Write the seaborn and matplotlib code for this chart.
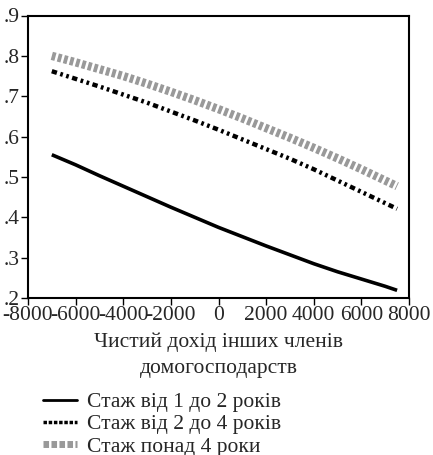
import numpy as np
import pandas as pd
import matplotlib
matplotlib.use("Agg")
import matplotlib.pyplot as plt
import seaborn as sns
from matplotlib.lines import Line2D

x_vals = [-7000, -6000, -5000, -4000, -3000, -2000, -1000, 0, 1000, 2000, 3000, 4000, 5000, 6000, 7000, 7500]
s1 = [.555, .530, .503, .477, .451, .425, .400, .375, .352, .329, .307, .285, .265, .247, .229, .219]
s2 = [.762, .743, .724, .704, .684, .662, .640, .617, .593, .569, .545, .519, .491, .463, .435, .421]
s3 = [.800, .784, .767, .750, .731, .711, .690, .668, .645, .621, .597, .572, .546, .519, .491, .477]
names = ["Стаж від 1 до 2 років", "Стаж від 2 до 4 років", "Стаж понад 4 роки"]
xticks = [-8000, -6000, -4000, -2000, 0, 2000, 4000, 6000, 8000]
yticks = [.2, .3, .4, .5, .6, .7, .8, .9]
ytick_labels = [".2", ".3", ".4", ".5", ".6", ".7", ".8", ".9"]

df = pd.concat([
    pd.DataFrame({"x": x_vals, "y": s, "group": n}) for s, n in zip([s1, s2, s3], names)
])

sns.set_style("white")
plt.rcParams["font.family"] = ["Liberation Serif", "DejaVu Serif"]

fig = plt.figure(figsize=(4.33, 4.55), dpi=100)
ax = fig.add_axes([28/433, 1-298/455, (409-28)/433, (298-15.5)/455])

palette = {names[0]: "black", names[1]: "black", names[2]: "#999999"}
sns.lineplot(data=df, x="x", y="y", hue="group", palette=palette, ax=ax, legend=False, sort=True)

styles = [dict(lw=2.6, ls="-"), dict(lw=3.2, ls=(0, (1.2, 0.8, 0.6, 0.8, 0.6, 0.8))), dict(lw=6, ls=(0, (0.45, 0.3)))]
for line, st in zip(ax.lines, styles):
    line.set_linewidth(st["lw"])
    line.set_linestyle(st["ls"])
    line.set_solid_capstyle("butt")
    line.set_dash_capstyle("butt")

ax.set_xlim(-8000, 8000)
ax.set_ylim(.2, .9)
ax.set_xticks(xticks)
ax.set_xticklabels([str(t) for t in xticks], fontsize=15.5)
ax.set_yticks(yticks)
ax.set_yticklabels(ytick_labels, fontsize=15.5)
ax.tick_params(axis="both", which="both", direction="out", length=5, width=1, color="black", pad=1, left=True, bottom=True)
for sp in ax.spines.values():
    sp.set_linewidth(1.5)
    sp.set_color("black")
ax.set_xlabel("Чистий дохід інших членів\nдомогосподарств", fontsize=15.5, linespacing=1.55, labelpad=5)
ax.set_ylabel("")

handles = [Line2D([], [], color="black", lw=2, ls="-"),
           Line2D([], [], color="black", lw=2.5, ls=(0, (1, 0.5))),
           Line2D([], [], color="#999999", lw=5, ls=(0, (0.8, 0.35)))]
fig.legend(handles, names, loc="upper left", bbox_to_anchor=(43/433, 1-392/455), frameon=False,
           fontsize=15.5, handlelength=1.6, handletextpad=0.45, labelspacing=0.1, borderaxespad=0, borderpad=0)

fig.savefig("out.png", dpi=100)
